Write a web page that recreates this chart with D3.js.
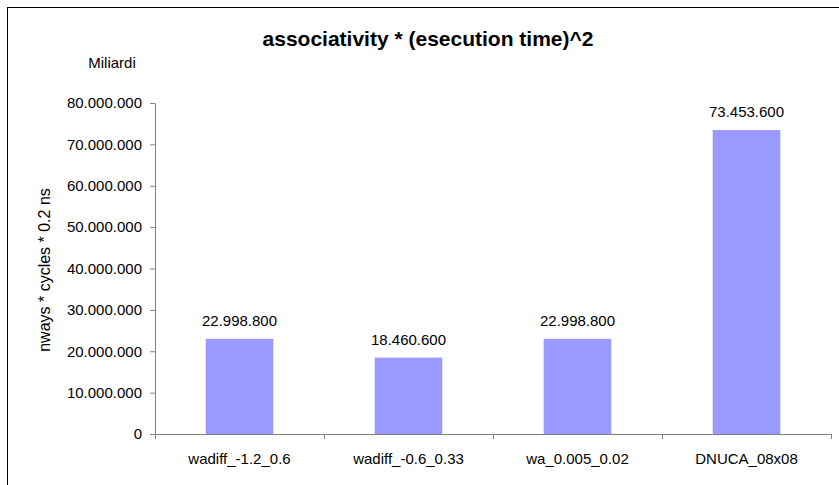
<!DOCTYPE html>
<html>
<head>
<script src="https://d3js.org/d3.v7.min.js"></script>
<style>
  body { margin: 0; background: #fff; }
  text { font-family: "Liberation Sans", Arial, sans-serif; fill: #000; }
</style>
</head>
<body>
<svg id="chart" width="839" height="485"></svg>
<script>
// data
var categories = ["wadiff_-1.2_0.6", "wadiff_-0.6_0.33", "wa_0.005_0.02", "DNUCA_08x08"];
var values = [22998800, 18460600, 22998800, 73453600];
var yTicks = [0, 10000000, 20000000, 30000000, 40000000, 50000000, 60000000, 70000000, 80000000];

var svg = d3.select("#chart");
var mLeft = 155, mRight = 831, mTop = 103, mBottom = 434;

// Italian style thousands separator
var fmt = d3.formatLocale({decimal: ",", thousands: ".", grouping: [3], currency: ["", "€"]}).format(",d");

// outer frame
svg.append("rect")
  .attr("x", 7.5).attr("y", 7.5)
  .attr("width", 900).attr("height", 600)
  .attr("fill", "none").attr("stroke", "#000").attr("stroke-width", 1);

var x = d3.scaleBand().domain(categories).range([mLeft, mRight]).paddingInner(0).paddingOuter(0);
var y = d3.scaleLinear().domain([0, 80000000]).range([mBottom, mTop]);

// y axis
var yAxis = svg.append("g")
  .attr("transform", "translate(" + mLeft + ",0)")
  .call(d3.axisLeft(y).tickValues(yTicks).tickFormat(fmt).tickSize(5).tickSizeOuter(0).tickPadding(8));
yAxis.selectAll("text").style("font-size", "15px").style("font-family", "'Liberation Sans', Arial, sans-serif").attr("fill", "#000");
yAxis.select(".domain").attr("stroke", "#808080");
yAxis.selectAll(".tick line").attr("stroke", "#808080");

// bars
var barW = x.bandwidth() * 0.4;
svg.selectAll("rect.bar")
  .data(values)
  .enter()
  .append("rect")
  .attr("class", "bar")
  .attr("x", function(d, i) { return x(categories[i]) + (x.bandwidth() - barW) / 2; })
  .attr("y", function(d) { return y(d); })
  .attr("width", barW)
  .attr("height", function(d) { return mBottom - y(d); })
  .attr("fill", "#9999ff");

// value labels
svg.selectAll("text.val")
  .data(values)
  .enter()
  .append("text")
  .attr("class", "val")
  .attr("x", function(d, i) { return x(categories[i]) + x.bandwidth() / 2; })
  .attr("y", function(d) { return y(d) - 13; })
  .attr("text-anchor", "middle")
  .style("font-size", "15px")
  .text(function(d) { return fmt(d); });

// x axis with ticks between categories
var xAxis = svg.append("g").attr("transform", "translate(0," + mBottom + ")");
xAxis.append("line").attr("x1", mLeft).attr("x2", mRight).attr("y1", 0.5).attr("y2", 0.5).attr("stroke", "#808080");
var edges = categories.map(function(c) { return x(c); }).concat([mRight]);
xAxis.selectAll("line.tk")
  .data(edges)
  .enter()
  .append("line")
  .attr("class", "tk")
  .attr("x1", function(d) { return Math.round(d) + 0.5; })
  .attr("x2", function(d) { return Math.round(d) + 0.5; })
  .attr("y1", 0).attr("y2", 5)
  .attr("stroke", "#808080");
xAxis.selectAll("text")
  .data(categories)
  .enter()
  .append("text")
  .attr("x", function(d) { return x(d) + x.bandwidth() / 2; })
  .attr("y", 30)
  .attr("text-anchor", "middle")
  .style("font-size", "15px")
  .text(function(d) { return d; });

// titles
svg.append("text")
  .attr("x", 428).attr("y", 46)
  .attr("text-anchor", "middle")
  .style("font-size", "21px").style("font-weight", "bold")
  .text("associativity * (esecution time)^2");

svg.append("text")
  .attr("x", 112).attr("y", 68)
  .attr("text-anchor", "middle")
  .style("font-size", "15px")
  .text("Miliardi");

svg.append("text")
  .attr("transform", "translate(50,270) rotate(-90)")
  .attr("text-anchor", "middle")
  .style("font-size", "16px")
  .text("nways * cycles * 0.2 ns");
</script>
</body>
</html>
